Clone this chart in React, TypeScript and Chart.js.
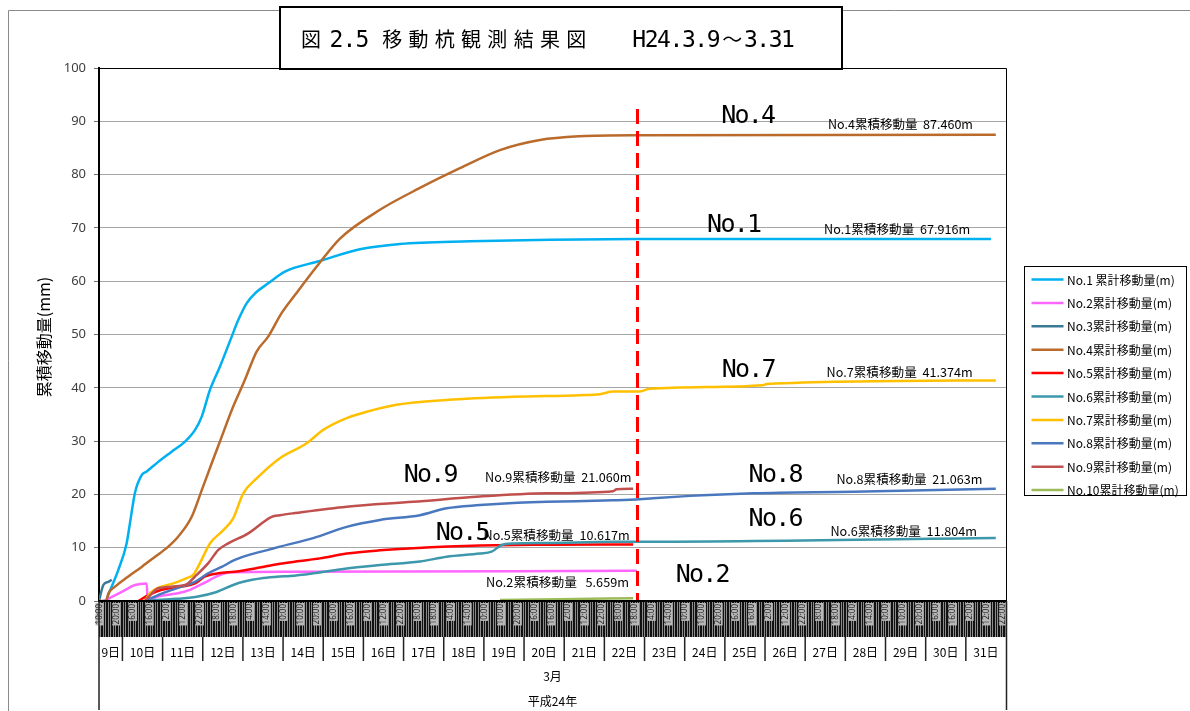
import React, { useEffect, useRef } from "react";
import { Chart, registerables } from "chart.js";

Chart.register(...registerables);

// x = hours elapsed since 平成24年3月9日 0:00
const axisStartHour = 10;
const axisEndHour = 552;
const cutoffHour = 331.5; // 22日 19:30 (red dashed line)
const cutoffTopValue = 92.3;

const seriesLabels = [
  "No.1 累計移動量(m)",
  "No.2累計移動量(m)",
  "No.3累計移動量(m)",
  "No.4累計移動量(m)",
  "No.5累計移動量(m)",
  "No.6累計移動量(m)",
  "No.7累計移動量(m)",
  "No.8累計移動量(m)",
  "No.9累計移動量(m)",
  "No.10累計移動量(m)",
];
const seriesColors = [
  "#00B0F0",
  "#FF66FF",
  "#3B7A96",
  "#BA6B2C",
  "#FF0000",
  "#3D98AB",
  "#FFC000",
  "#4A78BE",
  "#C0504D",
  "#9BBB59",
];

const no1Hours = [12, 13.6, 16.6, 21.5, 26.5, 28.5, 31.5, 35.5, 38.5, 45.4, 53.4, 61.4, 67.4, 71.4, 76.3, 82.3, 89.3, 93.2, 98.3, 103.2, 111.1, 121.1, 142, 165.9, 189.8, 231.6, 279.4, 331.4, 543];
const no1Values = [0, 0, 2, 5.8, 10.8, 14.6, 20.3, 23.6, 24.3, 26.1, 28, 29.9, 32.1, 34.6, 39.6, 44, 49.6, 52.7, 55.9, 57.7, 59.6, 61.8, 63.8, 66, 67, 67.5, 67.8, 67.9, 67.916];

const no2Hours = [13, 23.6, 31.5, 38.5, 39.1, 44.5, 56.4, 64.4, 72.3, 80.3, 84.3, 88.3, 124.1, 331.4];
const no2Values = [0, 1.7, 3, 3.3, 0, 0.8, 1.4, 2.1, 3.3, 4.6, 5.1, 5.4, 5.5, 5.659];

const no3Hours = [10, 12.6, 15.6, 17.6];
const no3Values = [0, 3, 3.6, 4.0];

const no4Hours = [10, 14.2, 15.6, 19.6, 27.5, 35.5, 43.5, 51.4, 57.4, 65.4, 71.4, 77.3, 83.3, 89.3, 97.2, 104.2, 111.1, 119.1, 127.1, 142, 154, 177.9, 201.8, 225.7, 249.6, 273.5, 297.3, 331.4, 545.9];
const no4Values = [0, 0, 1.4, 2.7, 4.6, 6.4, 8.3, 10.2, 12.1, 15.8, 20.8, 25.8, 30.8, 35.8, 41.5, 46.8, 49.6, 54, 57.4, 63.5, 68, 73.4, 77.5, 81.2, 84.6, 86.5, 87.2, 87.4, 87.46];

const no5Hours = [33.5, 39.5, 47.5, 59.4, 67.4, 73.3, 81.3, 91.2, 103.2, 118.1, 130.1, 142, 158, 177.9, 197.8, 237.6, 277.5, 329.2];
const no5Values = [0, 1.1, 2.1, 2.7, 3.3, 4.6, 5.2, 5.5, 6.1, 7.0, 7.5, 8.0, 8.9, 9.5, 9.9, 10.4, 10.55, 10.617];

const no6Hours = [37.5, 44.5, 56.4, 68.4, 80.3, 90.2, 96.2, 108.2, 118.1, 124.1, 138, 158, 177.9, 201.8, 217.7, 237.6, 244.6, 250.6, 257.5, 277.5, 317.2, 333.2, 545.9];
const no6Values = [0, 0.2, 0.4, 0.8, 1.7, 3, 3.6, 4.3, 4.6, 4.7, 5.2, 6.1, 6.75, 7.4, 8.3, 8.9, 9.25, 10.5, 10.8, 10.9, 11.1, 11.1, 11.804];

const no7Hours = [37.5, 40.5, 46.4, 54.4, 62.4, 66.3, 70.3, 76.3, 84.3, 90.2, 96.2, 104.2, 118.1, 134.1, 144, 158, 170, 187.8, 217.7, 257.5, 297.3, 309.3, 317.2, 333.2, 339, 406.7, 409, 545.9];
const no7Values = [0, 1.5, 2.6, 3.3, 4.3, 4.9, 7.1, 10.8, 13.3, 15.5, 20.2, 23, 26.8, 29.6, 32.1, 34.3, 35.5, 36.8, 37.7, 38.3, 38.6, 38.8, 39.3, 39.3, 39.8, 40.5, 40.7, 41.374];

const no8Hours = [37.5, 47.5, 59.4, 67.4, 75.3, 83.3, 91.2, 99.2, 111.1, 118.1, 138, 158, 177.9, 201.8, 217.7, 237.6, 257.5, 277.5, 317.2, 333.2, 341.1, 400.8, 460.6, 545.9];
const no8Values = [0, 1.4, 2.7, 3.6, 5.2, 6.4, 7.7, 8.6, 9.6, 10.2, 11.8, 13.9, 15.2, 16.1, 17.4, 18, 18.4, 18.6, 18.9, 19.1, 19.3, 20.2, 20.5, 21.063];

const no9Hours = [37.5, 41.5, 45.4, 61.4, 67.4, 75.3, 81.3, 87.2, 99.2, 113.2, 118.1, 127.1, 158, 197.8, 237.6, 277.5, 317.2, 319.3, 329.2];
const no9Values = [0, 1.4, 2.4, 3, 4.6, 7.1, 9.6, 10.8, 12.7, 15.8, 16.1, 16.5, 17.7, 18.6, 19.6, 20.2, 20.6, 20.95, 21.06];

const no10Hours = [249.6, 285.4, 329.2];
const no10Values = [0.2, 0.35, 0.5];

const seriesHours = [no1Hours, no2Hours, no3Hours, no4Hours, no5Hours, no6Hours, no7Hours, no8Hours, no9Hours, no10Hours];
const seriesValues = [no1Values, no2Values, no3Values, no4Values, no5Values, no6Values, no7Values, no8Values, no9Values, no10Values];

// Annotations (anchored in data coordinates)
const pointLabels = ["No.4", "No.1", "No.7", "No.9", "No.8", "No.5", "No.6", "No.2"];
const pointLabelHours = [382.3, 373.9, 382.6, 192.6, 398.7, 211.7, 398.7, 355.1];
const pointLabelValues = [89.6, 69.2, 42.1, 22.3, 22.3, 11.5, 14.1, 3.5];

const totalLabels = [
  "No.4累積移動量  87.460m",
  "No.1累積移動量  67.916m",
  "No.7累積移動量  41.374m",
  "No.8累積移動量  21.063m",
  "No.6累積移動量  11.804m",
  "No.9累積移動量  21.060m",
  "No.5累積移動量  10.617m",
  "No.2累積移動量   5.659m",
];
const totalLabelHours = [445.6, 443.3, 444.8, 450.7, 447.1, 240.7, 239.8, 241.3];
const totalLabelValues = [89.5, 69.8, 43.0, 22.8, 13.1, 23.2, 12.3, 3.6];
const totalLabelWidths = [145, 146, 146, 146, 146.5, 146.5, 146, 143];

const dayNumbers = [9, 10, 11, 12, 13, 14, 15, 16, 17, 18, 19, 20, 21, 22, 23, 24, 25, 26, 27, 28, 29, 30, 31];
const monthLabel = "3月";
const yearLabel = "平成24年";
const titleText = "図 2.5 移動杭観測結果図　H24.3.9～3.31";
const yAxisTitle = "累積移動量(mm)";

const CJK = '"Noto Sans CJK JP", "Noto Sans", sans-serif';

function fitText(ctx: CanvasRenderingContext2D, text: string, x: number, y: number, width: number) {
  const w = ctx.measureText(text).width;
  ctx.save();
  ctx.translate(x, y);
  ctx.scale(width / w, 1);
  ctx.textAlign = "left";
  ctx.fillText(text, 0, 0);
  ctx.restore();
}

function drawCells(ctx: CanvasRenderingContext2D, text: string, x: number, y: number, pitch: number) {
  ctx.textAlign = "center";
  const chars = Array.from(text);
  chars.forEach((c, i) => ctx.fillText(c, x + pitch * (i + 0.5), y));
}

const decorPlugin = {
  id: "decor",
  beforeDraw(chart: any) {
    const ctx = chart.ctx as CanvasRenderingContext2D;
    ctx.save();
    ctx.fillStyle = "#ffffff";
    ctx.fillRect(0, 0, chart.width, chart.height);
    ctx.restore();
  },
  afterDatasetsDraw(chart: any) {
    const ctx = chart.ctx as CanvasRenderingContext2D;
    const xs = chart.scales.x;
    const ys = chart.scales.y;
    const x = Math.round(xs.getPixelForValue(cutoffHour)) + 0.5;
    ctx.save();
    ctx.strokeStyle = "#FF0000";
    ctx.lineWidth = 3;
    ctx.setLineDash([15, 7]);
    ctx.beginPath();
    ctx.moveTo(x, ys.getPixelForValue(cutoffTopValue));
    ctx.lineTo(x, ys.getPixelForValue(0));
    ctx.stroke();
    ctx.restore();
  },
  afterDraw(chart: any) {
    const ctx = chart.ctx as CanvasRenderingContext2D;
    const xs = chart.scales.x;
    const ys = chart.scales.y;
    const area = chart.chartArea;
    const L = area.left, R = area.right, T = area.top, B = area.bottom;
    ctx.save();

    // outer frame
    ctx.strokeStyle = "#8a8a8a";
    ctx.lineWidth = 1;
    ctx.beginPath();
    ctx.moveTo(8.5, chart.height);
    ctx.lineTo(8.5, 10.5);
    ctx.lineTo(chart.width, 10.5);
    ctx.stroke();

    // plot border (top/right)
    ctx.strokeStyle = "#000";
    ctx.lineWidth = 1;
    ctx.beginPath();
    ctx.moveTo(L, T + 0.5);
    ctx.lineTo(R + 0.5, T + 0.5);
    ctx.lineTo(R + 0.5, B);
    ctx.stroke();

    // hourly band
    const bandTop = B;
    const bandBottom = B + 36;
    ctx.fillStyle = "#8c8c8c";
    ctx.fillRect(L, bandTop, R - L, bandBottom - bandTop);
    ctx.strokeStyle = "#111";
    ctx.lineWidth = 1;
    ctx.beginPath();
    for (let h = axisStartHour; h <= axisEndHour; h += 1) {
      const x = Math.round(xs.getPixelForValue(h)) + 0.5;
      ctx.moveTo(x, bandTop);
      ctx.lineTo(x, bandBottom);
    }
    ctx.stroke();
    ctx.font = '8px "Noto Sans", sans-serif';
    ctx.textBaseline = "middle";
    for (let h = axisStartHour; h <= axisEndHour - 2; h += 10) {
      const x = xs.getPixelForValue(h);
      const label = `${h % 24}:00`;
      ctx.save();
      ctx.translate(x + 0.5, bandTop + 3);
      ctx.rotate(-Math.PI / 2);
      const w = ctx.measureText(label).width;
      ctx.fillStyle = "#b8b8b8";
      ctx.fillRect(-w - 1, -4, w + 2, 8);
      ctx.fillStyle = "#222";
      ctx.textAlign = "right";
      ctx.fillText(label, 0, 0);
      ctx.restore();
    }

    // axis line bottom
    ctx.strokeStyle = "#000";
    ctx.lineWidth = 2;
    ctx.beginPath();
    ctx.moveTo(L - 1, B);
    ctx.lineTo(R + 1, B);
    ctx.stroke();

    // vertical lines down to bottom
    ctx.lineWidth = 1.5;
    ctx.strokeStyle = "#222";
    ctx.beginPath();
    ctx.moveTo(L, B);
    ctx.lineTo(L, chart.height - 1);
    ctx.moveTo(R + 0.5, B);
    ctx.lineTo(R + 0.5, chart.height - 1);
    ctx.stroke();

    // day separators and labels
    ctx.lineWidth = 1.5;
    ctx.beginPath();
    dayNumbers.forEach((d) => {
      const start = (d - 9) * 24;
      if (start > axisStartHour) {
        const x = xs.getPixelForValue(start);
        ctx.moveTo(x, bandBottom);
        ctx.lineTo(x, bandBottom + 24);
      }
    });
    ctx.stroke();
    ctx.fillStyle = "#000";
    ctx.font = `12px ${CJK}`;
    ctx.textAlign = "center";
    ctx.textBaseline = "middle";
    dayNumbers.forEach((d) => {
      const s = Math.max((d - 9) * 24, axisStartHour);
      const e = Math.min((d - 8) * 24, axisEndHour);
      const x = (xs.getPixelForValue(s) + xs.getPixelForValue(e)) / 2;
      ctx.fillText(`${d}日`, x, bandBottom + 15);
    });
    ctx.fillText(monthLabel, (L + R) / 2, 676);
    ctx.fillText(yearLabel, (L + R) / 2, 701);

    // y-axis title
    ctx.save();
    ctx.translate(44, 337);
    ctx.rotate(-Math.PI / 2);
    ctx.font = `16px ${CJK}`;
    ctx.textAlign = "center";
    ctx.textBaseline = "middle";
    ctx.fillStyle = "#000";
    ctx.fillText(yAxisTitle, 0, 0);
    ctx.restore();

    // point labels
    ctx.fillStyle = "#000";
    ctx.font = '25px "DejaVu Sans Mono", monospace';
    ctx.textBaseline = "alphabetic";
    pointLabels.forEach((t, i) => {
      drawCells(ctx, t, xs.getPixelForValue(pointLabelHours[i]), ys.getPixelForValue(pointLabelValues[i]), 13.3);
    });

    // total labels
    ctx.font = `12.5px ${CJK}`;
    ctx.textBaseline = "middle";
    totalLabels.forEach((t, i) => {
      fitText(ctx, t, xs.getPixelForValue(totalLabelHours[i]), ys.getPixelForValue(totalLabelValues[i]), totalLabelWidths[i]);
    });

    // title box
    ctx.fillStyle = "#fff";
    ctx.fillRect(280, 7, 562, 62);
    ctx.strokeStyle = "#000";
    ctx.lineWidth = 2;
    ctx.strokeRect(280, 7, 562, 62);
    ctx.fillStyle = "#000";
    ctx.textBaseline = "alphabetic";
    const parts = titleText.split(" ");
    ctx.font = `20px ${CJK}`;
    drawCells(ctx, parts[0], 299, 47, 24);
    ctx.font = '23px "DejaVu Sans Mono", monospace';
    drawCells(ctx, parts[1], 330, 47, 13);
    const rest = parts[2].split("　");
    ctx.font = `20px ${CJK}`;
    drawCells(ctx, rest[0], 379, 47, 26.3);
    const dateParts = rest[1].split("～");
    ctx.font = '23px "DejaVu Sans Mono", monospace';
    drawCells(ctx, dateParts[0], 633, 47, 12.4);
    ctx.font = `20px ${CJK}`;
    drawCells(ctx, "～", 633 + dateParts[0].length * 12.4, 47, 24.8);
    ctx.font = '23px "DejaVu Sans Mono", monospace';
    drawCells(ctx, dateParts[1], 633 + dateParts[0].length * 12.4 + 24.8, 47, 12.4);

    // legend
    const lx = 1024.5, ly = 266.5, lw = 162, lh = 229;
    ctx.fillStyle = "#fff";
    ctx.fillRect(lx, ly, lw, lh);
    ctx.strokeStyle = "#000";
    ctx.lineWidth = 1;
    ctx.strokeRect(lx, ly, lw, lh);
    ctx.font = `12px ${CJK}`;
    ctx.textAlign = "left";
    ctx.textBaseline = "middle";
    seriesLabels.forEach((lab, i) => {
      const y = 279.5 + i * 23.4;
      ctx.strokeStyle = seriesColors[i];
      ctx.lineWidth = 2.5;
      ctx.beginPath();
      ctx.moveTo(1031.5, y);
      ctx.lineTo(1063.5, y);
      ctx.stroke();
      ctx.fillStyle = "#000";
      ctx.fillText(lab, 1067, y + 0.5);
    });

    ctx.restore();
  },
};

export default function App() {
  const ref = useRef<HTMLCanvasElement>(null);
  useEffect(() => {
    document.body.style.margin = "0";
    const datasets = seriesHours.map((hours, i) => ({
      label: seriesLabels[i],
      data: hours.map((h, j) => ({ x: h, y: seriesValues[i][j] })),
      borderColor: seriesColors[i],
      backgroundColor: seriesColors[i],
      borderWidth: 2.5,
      pointRadius: 0,
      fill: false,
      cubicInterpolationMode: "monotone" as const,
      order: 10 - i,
    }));
    const chart = new Chart(ref.current!, {
      type: "line",
      data: { datasets },
      options: {
        responsive: false,
        animation: false,
        events: [],
        layout: { padding: { left: 0, top: 68, right: 184, bottom: 0 } },
        plugins: {
          legend: { display: false },
          title: { display: false },
          tooltip: { enabled: false },
        },
        scales: {
          x: {
            type: "linear",
            min: axisStartHour,
            max: axisEndHour,
            ticks: { display: false },
            grid: { display: false, drawTicks: false },
            border: { display: false },
            afterFit: (s: any) => {
              s.height = 110;
            },
          },
          y: {
            min: 0,
            max: 100,
            ticks: {
              stepSize: 10,
              font: { family: '"Noto Sans", sans-serif', size: 13 },
              color: "#404040",
              padding: 8,
            },
            grid: { color: "#A6A6A6", lineWidth: 1, tickLength: 5, tickColor: "#707070" },
            border: { display: true, color: "#000", width: 2 },
            afterFit: (s: any) => {
              s.width = 99;
            },
          },
        },
      },
      plugins: [decorPlugin],
    });
    return () => chart.destroy();
  }, []);
  return (
    <div style={{ width: 1190, height: 711 }}>
      <canvas ref={ref} width={1190} height={711} style={{ display: "block" }} />
    </div>
  );
}
